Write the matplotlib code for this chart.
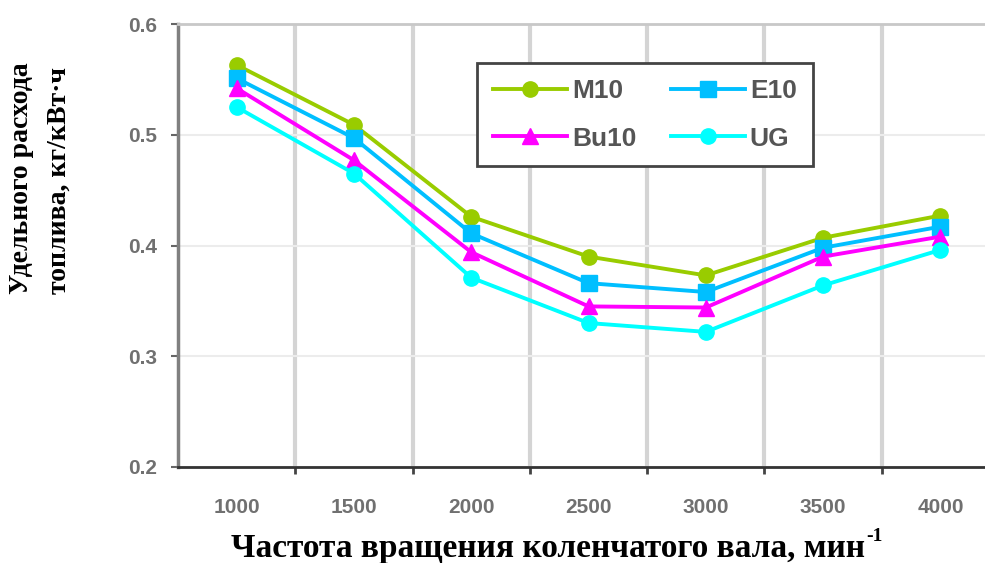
import matplotlib
matplotlib.use("Agg")
import matplotlib.pyplot as plt
import numpy as np

rpm = ["1000", "1500", "2000", "2500", "3000", "3500", "4000"]
m10 = [0.563, 0.509, 0.426, 0.390, 0.373, 0.407, 0.427]
e10 = [0.551, 0.497, 0.411, 0.366, 0.358, 0.398, 0.417]
bu10 = [0.542, 0.477, 0.394, 0.345, 0.344, 0.390, 0.408]
ug = [0.525, 0.465, 0.371, 0.330, 0.322, 0.364, 0.396]
yticks = [0.2, 0.3, 0.4, 0.5, 0.6]

series = [
    ("M10", m10, "#99cc00", "o"),
    ("E10", e10, "#00bfff", "s"),
    ("Bu10", bu10, "#ff00ff", "^"),
    ("UG", ug, "#00ffff", "o"),
]

fig = plt.figure(figsize=(9.85, 5.63), dpi=100)
ax = fig.add_axes([178 / 985, 1 - 467 / 563, 1 - 178 / 985, (467 - 24) / 563])

x = np.arange(len(rpm))
lines = {}
for name, vals, col, mk in series:
    lines[name], = ax.plot(x, vals, color=col, marker=mk, markersize=11,
                           linewidth=2.8, label=name, zorder=3)

ax.set_xlim(-0.5, 6.38)
ax.set_ylim(0.2, 0.6)

ax.set_xticks(x)
ax.set_xticklabels(rpm)
ax.set_xticks(x[:-1] + 0.5, minor=True)
ax.tick_params(axis="x", which="major", length=0, pad=22)
ax.tick_params(axis="x", which="minor", length=5, width=2, color="#444")
ax.grid(axis="x", which="minor", color="#d4d4d4", linewidth=3)

ax.set_yticks(yticks)
ax.set_yticklabels([f"{v:.1f}" for v in yticks])
ax.tick_params(axis="y", length=5, width=1.5, color="#666", pad=10)
ax.grid(axis="y", which="major", color="#ececec", linewidth=1.5)

for lab in ax.get_xticklabels() + ax.get_yticklabels():
    lab.set_fontfamily("Liberation Sans")
    lab.set_fontweight("bold")
    lab.set_fontsize(15)
    lab.set_color("#707070")

ax.spines["right"].set_visible(False)
ax.spines["top"].set_color("#c8c8c8")
ax.spines["top"].set_linewidth(2)
ax.spines["left"].set_color("#808080")
ax.spines["left"].set_linewidth(2.5)
ax.spines["bottom"].set_color("#333333")
ax.spines["bottom"].set_linewidth(2)

# two columns fill top-down, so order as M10, Bu10 | E10, UG
order = ["M10", "Bu10", "E10", "UG"]
leg = ax.legend([lines[n] for n in order], order, ncol=2, loc="upper left",
                bbox_to_anchor=(477 / 985, 1 - 63 / 563),
                bbox_transform=fig.transFigure, borderaxespad=0,
                frameon=True, fancybox=False, framealpha=1,
                edgecolor="#444444", handlelength=2.8, handletextpad=0.2,
                columnspacing=1.3, labelspacing=0.9, borderpad=0.6,
                prop={"family": "Liberation Sans", "weight": "bold", "size": 19})
leg.get_frame().set_linewidth(2)
for t in leg.get_texts():
    t.set_color("#555555")

fig.text(22 / 985, 1 - 178 / 563, "Удельного расхода", rotation=90, ha="center",
         va="center", family="Liberation Serif", weight="bold", fontsize=20)
fig.text(59 / 985, 1 - 180 / 563, "топлива, кг/кВт·ч", rotation=90, ha="center",
         va="center", family="Liberation Serif", weight="bold", fontsize=20)
xl = fig.text(548 / 985, 1 - 549 / 563, "Частота вращения коленчатого вала, мин",
              ha="center", va="center", family="Liberation Serif", weight="bold",
              fontsize=24)
ax.annotate("-1", xy=(1, 1), xycoords=xl, xytext=(1, -2), textcoords="offset points",
            ha="left", va="center", family="Liberation Serif", weight="bold",
            fontsize=14, annotation_clip=False)

fig.savefig("out.png", dpi=100)
